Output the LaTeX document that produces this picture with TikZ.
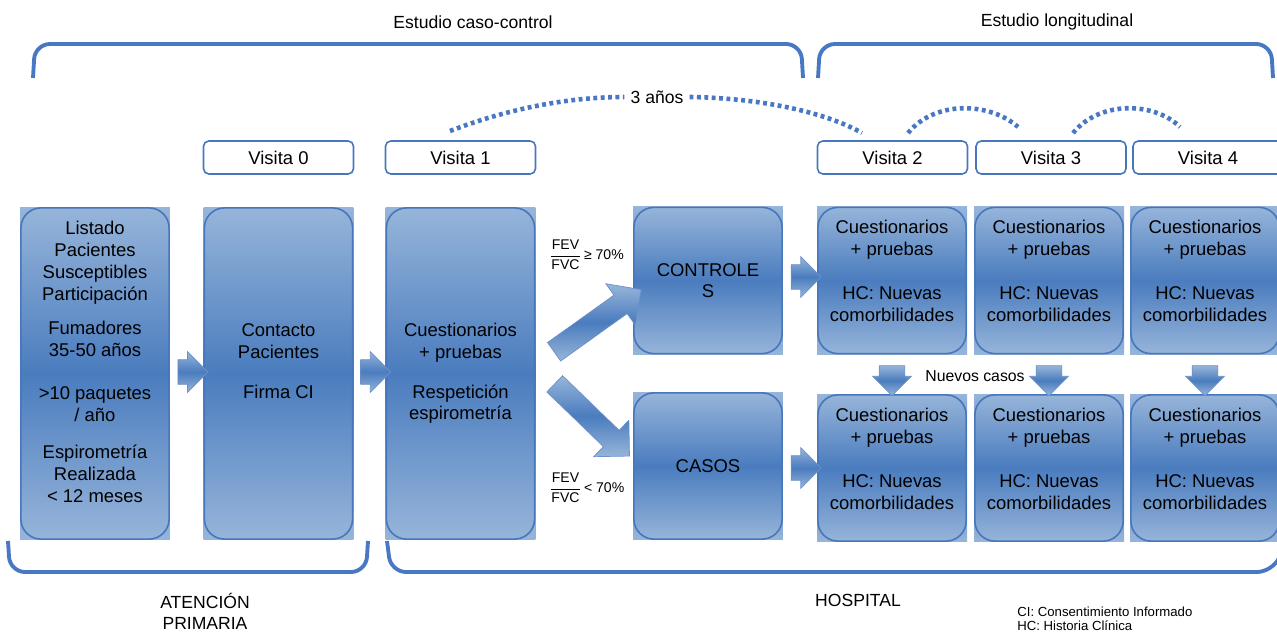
\documentclass[tikz,border=0pt]{standalone}
\usepackage{amsmath}
\usepackage{fontspec}
\setmainfont{Liberation Sans}
\usetikzlibrary{shapes.arrows,calc}
\definecolor{boxlight}{RGB}{151,181,218}
\definecolor{boxdark}{RGB}{74,124,190}
\definecolor{boxline}{RGB}{70,118,188}
\definecolor{bracketblue}{RGB}{72,120,195}

\begin{document}
\begin{tikzpicture}[x=0.02cm,y=-0.02cm,
  stagebox/.style={rectangle,inner sep=0pt,minimum width=3cm,minimum height=6.66cm,
    top color=boxlight,bottom color=boxlight,middle color=boxdark,
    align=center,font=\fontsize{10.5}{12.5}\selectfont,
    path picture={\draw[boxline,line width=0.9pt,rounded corners=0.4cm]
      ([shift={(0.5pt,-0.5pt)}]path picture bounding box.north west) rectangle
      ([shift={(-0.5pt,0.5pt)}]path picture bounding box.south east);}},
  halfbox/.style={stagebox,minimum height=2.96cm},
  visita/.style={draw=boxline,line width=0.9pt,rounded corners=3pt,fill=white,
    minimum width=3cm,minimum height=0.66cm,font=\fontsize{10.5}{12.5}\selectfont},
  bracketline/.style={draw=bracketblue,line width=2.2pt,rounded corners=0.3cm},
  dotline/.style={draw=bracketblue,line width=2.6pt,dash pattern=on 2.2pt off 2pt},
  blockarrow/.style={single arrow,inner sep=0pt,top color=boxlight,bottom color=boxlight,
    middle color=boxdark,draw=boxline!80,line width=0.4pt},
  smallarrow/.style={blockarrow,minimum height=0.6cm,inner ysep=0.24cm,single arrow head extend=0.16cm},
  label/.style={font=\fontsize{10}{12}\selectfont,align=center}
]
\useasboundingbox (0,0) rectangle (1277,634);

% etapas
\node[stagebox,text depth=13pt] (lista) at (95,373.5) {Listado\\Pacientes\\Susceptibles\\Participación\\[7pt]Fumadores\\35-50 años\\[12pt]>10 paquetes\\/ año\\[8.5pt]Espirometría\\Realizada\\< 12 meses};
\node[stagebox,text depth=14pt] (contacto) at (278.5,373.5) {Contacto\\Pacientes\\[10pt]Firma CI};
\node[stagebox] (cuest) at (460.5,373.5) {Cuestionarios\\+ pruebas\\[10pt]Respetición\\espirometría};
\node[halfbox,text height=20pt] (controles) at (708,280.5) {CONTROLE\\S};
\node[halfbox] (casos) at (708,466) {CASOS};
\foreach \n/\x in {a/892,b/1049,c/1205}
{
  \node[halfbox,text depth=11pt] (ctrl\n) at (\x,280.5) {Cuestionarios\\+ pruebas\\[12.5pt]HC: Nuevas\\comorbilidades};
  \node[halfbox,text depth=10pt] (caso\n) at (\x,468) {Cuestionarios\\+ pruebas\\[12.5pt]HC: Nuevas\\comorbilidades};
}

% visitas
\node[visita] (vzero) at (278.5,157.5) {Visita 0};
\node[visita] (vone) at (460.5,157.5) {Visita 1};
\node[visita] (vtwo) at (892.5,157.5) {Visita 2};
\node[visita] (vthree) at (1051,157.5) {Visita 3};
\node[visita] (vfour) at (1208,157.5) {Visita 4};

% flechas
\node[smallarrow] (fa) at ($(lista.east)!.5!(contacto.west)+(0,-1.5)$) {};
\node[smallarrow] (fb) at ($(contacto.east)!.5!(cuest.west)+(0,-1.5)$) {};
\node[smallarrow] (fc) at ($(controles.east)!.5!(ctrla.west)+(0,-3.5)$) {};
\node[smallarrow] (fd) at ($(casos.east)!.5!(casoa.west)+(0,1)$) {};
\node[blockarrow,rotate=35.5,minimum height=2.14cm,inner ysep=0.22cm,single arrow head extend=0.28cm] (fup) at (593,324) {};
\node[blockarrow,rotate=-44,minimum height=2.08cm,inner ysep=0.22cm,single arrow head extend=0.28cm] (fdown) at (588,416) {};
\foreach \n in {a,b,c}
  \node[smallarrow,rotate=-90,inner ysep=0.25cm,single arrow head extend=0.13cm] (fv\n) at ($(ctrl\n.south)!.5!(caso\n.north)$) {};

% textos
\node[font=\fontsize{8}{9}\selectfont,anchor=west,inner sep=0pt] (ratioup) at (549,255) {$\dfrac{\text{FEV}}{\text{FVC}}$\,≥ 70\%};
\node[font=\fontsize{8}{9}\selectfont,anchor=west,inner sep=0pt] (ratiodown) at (549,488) {$\dfrac{\text{FEV}}{\text{FVC}}$\,< 70\%};
\node[font=\fontsize{9}{11}\selectfont] (nuevos) at (975,376) {Nuevos casos};
\node[label] (casocontrol) at (473,22) {Estudio caso-control};
\node[label] (longitudinal) at (1057,22) {Estudio longitudinal};
\node[label] (tres) at (657,97) {3 años};
\node[label] (primaria) at (205,611) {ATENCIÓN\\PRIMARIA};
\node[label] (hospital) at (858,600) {HOSPITAL};
\node[font=\fontsize{7.5}{8}\selectfont,align=left,anchor=west,inner sep=0pt] (notas) at (1017,619) {CI: Consentimiento Informado\\HC: Historia Clínica};

% llaves
\draw[bracketline] (33,78) -- (35,44) -- (801,44) -- (803,78);
\draw[bracketline] (818,78) -- (820,44) -- (1271,44) -- (1273,78);
\draw[bracketline] (8,541) -- (10,572) -- (366,572) -- (368,541);
\draw[bracketline] (387,541) -- (391,572) -- (1272,572) -- (1280,556);

% intervalos
\coordinate (pa) at (450,131);
\coordinate (pb) at (862,133);
\coordinate (pc) at (908,133);
\coordinate (pd) at (1018,127);
\coordinate (pe) at (1073,133);
\coordinate (pf) at (1180,127);
\draw[dotline] (pa) .. controls (510,108) and (570,97) .. (tres.west);
\draw[dotline] (tres.east) .. controls (760,98) and (825,112) .. (pb);
\draw[dotline] (pc) .. controls (935,100) and (990,102) .. (pd);
\draw[dotline] (pe) .. controls (1100,100) and (1155,102) .. (pf);
\end{tikzpicture}
\end{document}
